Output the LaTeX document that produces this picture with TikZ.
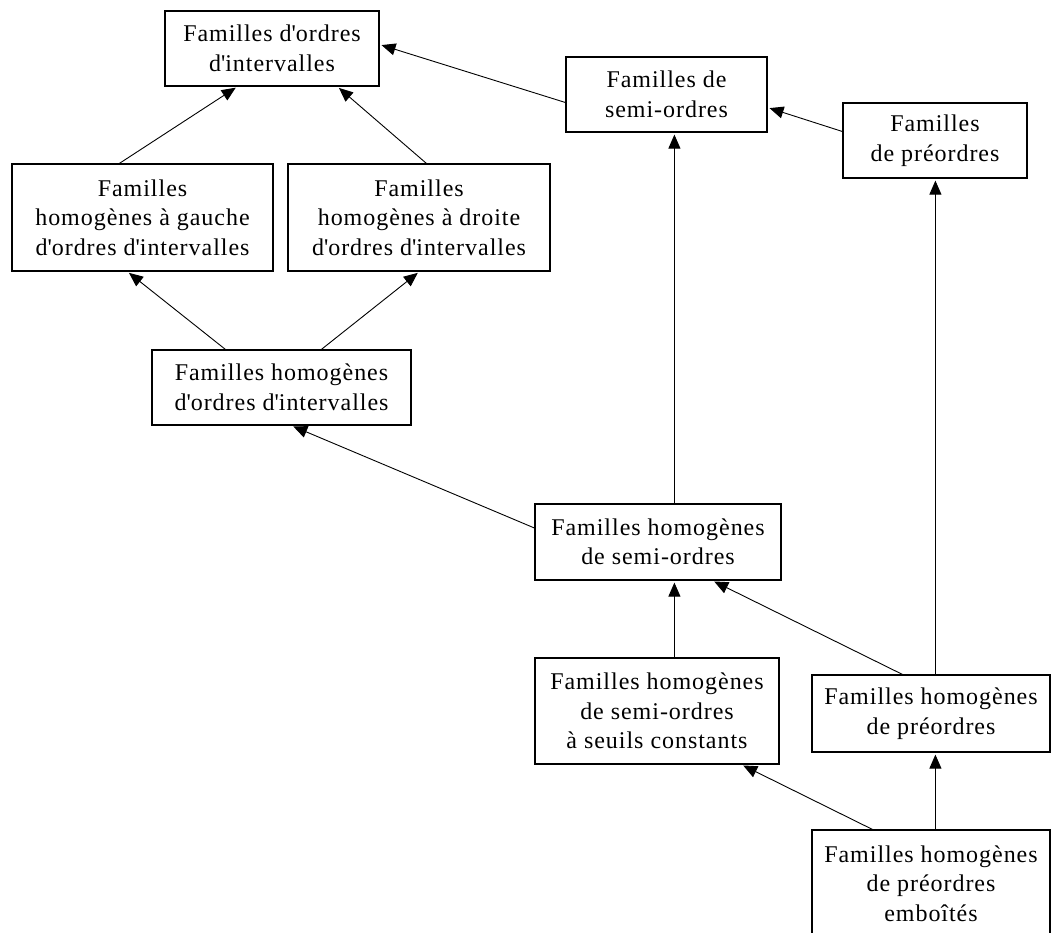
\documentclass[tikz,border=0pt]{standalone}
\usepackage{fontspec}
\setmainfont{Liberation Serif}[LetterSpace=4]
\usetikzlibrary{arrows.meta}
\newcommand{\apo}{\textquotesingle}

\begin{document}
\begin{tikzpicture}[x=1pt,y=1pt,
  boite/.style={draw,line width=1.2pt,inner sep=0pt,align=center,font=\fontsize{24}{29.5}\selectfont},
  fleche/.style={line width=0.9pt,-{Triangle[length=14pt,width=12pt]},shorten >=2pt}]

\useasboundingbox (0,0) rectangle (1052,-932);
\clip (0,0) rectangle (1052,-932);

\node[boite,minimum width=214pt,minimum height=75pt] (ordint) at (272,-48.5) {Familles d\apo ordres\\d\apo intervalles};
\node[boite,minimum width=201pt,minimum height=75pt] (semi) at (666.5,-94.5) {Familles de\\semi-ordres};
\node[boite,minimum width=184pt,minimum height=75pt] (preo) at (935,-140.5) {Familles\\de préordres};
\node[boite,minimum width=261pt,minimum height=107pt] (hgauche) at (142.5,-217.5) {Familles\\homogènes à gauche\\d\apo ordres d\apo intervalles};
\node[boite,minimum width=262pt,minimum height=107pt] (hdroite) at (419,-217.5) {Familles\\homogènes à droite\\d\apo ordres d\apo intervalles};
\node[boite,minimum width=259pt,minimum height=75pt] (hordint) at (281.5,-387.5) {Familles homogènes\\d\apo ordres d\apo intervalles};
\node[boite,minimum width=246pt,minimum height=76pt] (hsemi) at (658,-542) {Familles homogènes\\de semi-ordres};
\node[boite,minimum width=244pt,minimum height=106pt] (hseuils) at (657,-711) {Familles homogènes\\de semi-ordres\\à seuils constants};
\node[boite,minimum width=238pt,minimum height=77pt] (hpreo) at (931,-713.5) {Familles homogènes\\de préordres};
\node[boite,minimum width=238pt,minimum height=107pt] (hemb) at (931,-883.5) {Familles homogènes\\de préordres\\emboîtés};

\draw[fleche] ([xshift=108pt]hgauche.north west) -- ([xshift=73pt]ordint.south west);
\draw[fleche] ([xshift=139pt]hdroite.north west) -- ([xshift=173pt]ordint.south west);
\draw[fleche] ([yshift=-8pt]semi.west) -- ([yshift=4pt]ordint.east);
\draw[fleche] ([yshift=9pt]preo.west) -- ([yshift=-13pt]semi.east);
\draw[fleche] ([xshift=74pt]hordint.north west) -- ([xshift=116pt]hgauche.south west);
\draw[fleche] ([xshift=170pt]hordint.north west) -- ([xshift=132pt]hdroite.south west);
\draw[fleche] ([yshift=14pt]hsemi.west) -- ([xshift=140pt]hordint.south west);
\draw[fleche] ([xshift=140pt]hsemi.north west) -- ([xshift=109pt]semi.south west);
\draw[fleche] ([xshift=140pt]hseuils.north west) -- ([xshift=140pt]hsemi.south west);
\draw[fleche] ([xshift=124pt]hpreo.north west) -- ([xshift=93pt]preo.south west);
\draw[fleche] ([xshift=91pt]hpreo.north west) -- ([xshift=178pt]hsemi.south west);
\draw[fleche] ([xshift=61pt]hemb.north west) -- ([xshift=207pt]hseuils.south west);
\draw[fleche] ([xshift=124pt]hemb.north west) -- ([xshift=124pt]hpreo.south west);

\end{tikzpicture}
\end{document}
